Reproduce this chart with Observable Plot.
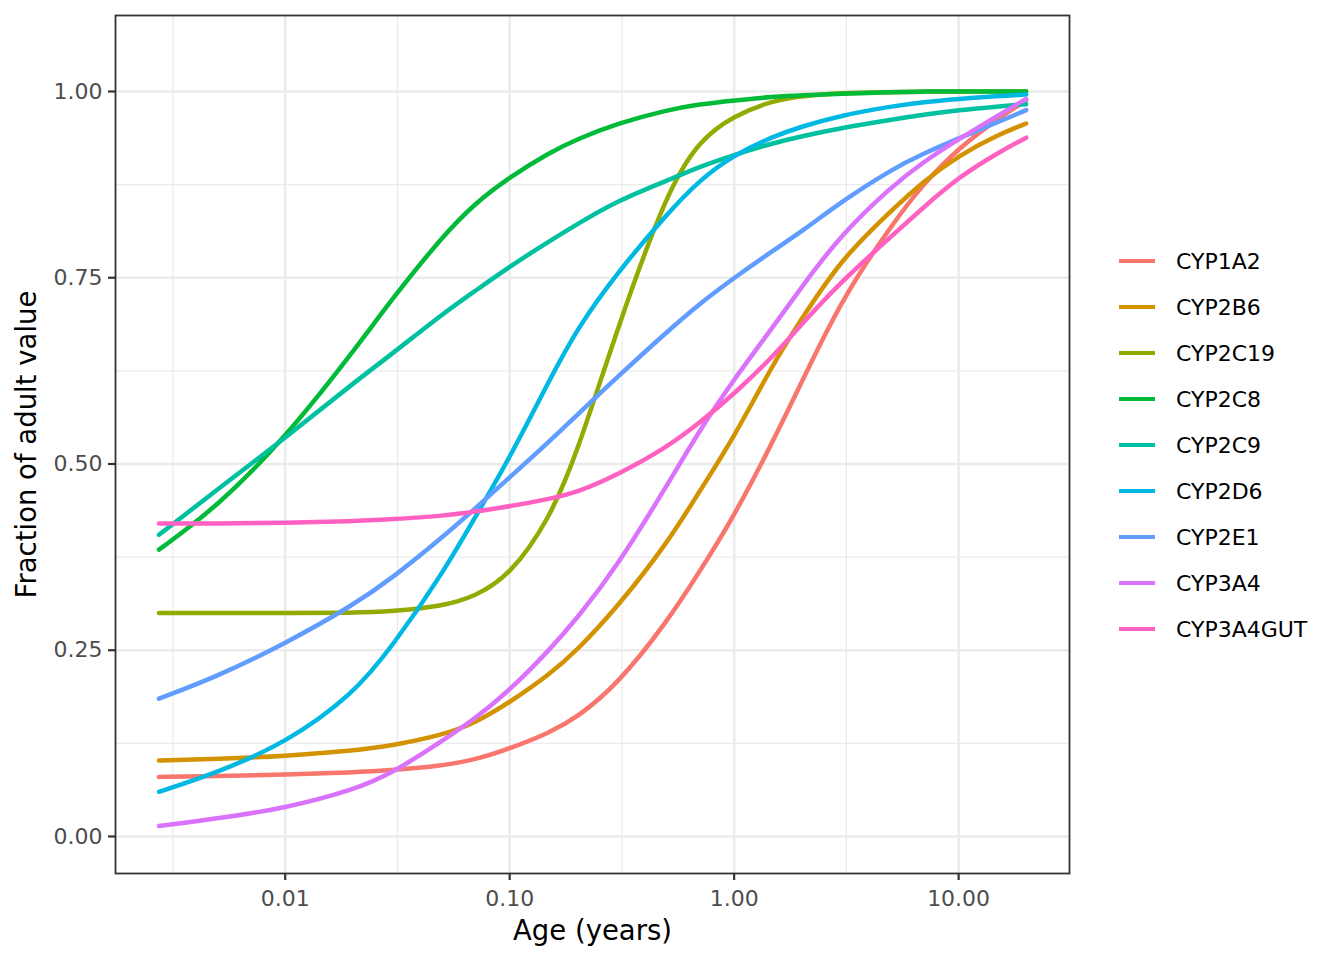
<!DOCTYPE html>
<html>
<head>
<meta charset="utf-8">
<script src="https://cdn.jsdelivr.net/npm/d3@7"></script>
<script src="https://cdn.jsdelivr.net/npm/@observablehq/plot@0.6"></script>
<style>
  html, body { margin: 0; padding: 0; background: #fff; }
  #wrap { position: relative; width: 1344px; height: 960px; font-family: "DejaVu Sans", sans-serif; }
  #chart { position: absolute; left: 0; top: 0; }
  #legend { position: absolute; left: 0; top: 0; }
  .item { position: absolute; left: 1119px; height: 46px; display: flex; align-items: center; }
  .sw { width: 36px; height: 4.5px; margin-right: 21px; }
  .lab { font-size: 22px; color: #000; }
</style>
</head>
<body>
<div id="wrap"><div id="chart"></div><div id="legend"></div></div>
<script>
const ages = [0.00274, 0.005, 0.01, 0.02, 0.03, 0.05, 0.07, 0.1, 0.15, 0.2, 0.3, 0.5, 0.7, 1, 1.5, 2, 3, 5, 7, 10, 15, 20];

const CYP1A2    = [0.080, 0.081, 0.083, 0.086, 0.089, 0.095, 0.103, 0.118, 0.139, 0.160, 0.203, 0.287, 0.355, 0.430, 0.532, 0.610, 0.720, 0.820, 0.877, 0.924, 0.964, 0.988];
const CYP2B6    = [0.102, 0.104, 0.108, 0.115, 0.122, 0.136, 0.152, 0.180, 0.217, 0.250, 0.307, 0.392, 0.463, 0.536, 0.636, 0.695, 0.775, 0.840, 0.880, 0.914, 0.942, 0.957];
const CYP2C19   = [0.300, 0.300, 0.300, 0.300, 0.302, 0.309, 0.322, 0.350, 0.425, 0.515, 0.680, 0.865, 0.935, 0.968, 0.988, 0.994, 0.998, 0.999, 1.000, 1.000, 1.000, 1.000];
const CYP2C8    = [0.385, 0.443, 0.535, 0.650, 0.722, 0.805, 0.850, 0.885, 0.918, 0.936, 0.957, 0.975, 0.983, 0.988, 0.993, 0.995, 0.997, 0.999, 1.000, 1.000, 1.000, 1.000];
const CYP2C9    = [0.405, 0.466, 0.535, 0.608, 0.648, 0.701, 0.732, 0.765, 0.799, 0.822, 0.853, 0.880, 0.899, 0.915, 0.931, 0.940, 0.951, 0.962, 0.969, 0.975, 0.980, 0.983];
const CYP2D6    = [0.060, 0.086, 0.125, 0.190, 0.255, 0.352, 0.428, 0.508, 0.612, 0.682, 0.756, 0.835, 0.881, 0.915, 0.940, 0.953, 0.968, 0.980, 0.986, 0.990, 0.994, 0.996];
const CYP2E1    = [0.185, 0.215, 0.259, 0.310, 0.347, 0.401, 0.440, 0.482, 0.530, 0.566, 0.616, 0.677, 0.715, 0.750, 0.787, 0.812, 0.852, 0.895, 0.917, 0.937, 0.959, 0.975];
const CYP3A4    = [0.014, 0.024, 0.038, 0.062, 0.085, 0.128, 0.158, 0.196, 0.250, 0.293, 0.362, 0.470, 0.545, 0.614, 0.685, 0.738, 0.808, 0.872, 0.906, 0.936, 0.968, 0.990];
const CYP3A4GUT = [0.420, 0.420, 0.421, 0.423, 0.426, 0.430, 0.436, 0.443, 0.453, 0.462, 0.485, 0.522, 0.555, 0.594, 0.645, 0.688, 0.745, 0.805, 0.845, 0.885, 0.918, 0.938];

const enzymes = ["CYP1A2", "CYP2B6", "CYP2C19", "CYP2C8", "CYP2C9", "CYP2D6", "CYP2E1", "CYP3A4", "CYP3A4GUT"];
const colors  = ["#F8766D", "#D39200", "#93AA00", "#00BA38", "#00C19F", "#00B9E3", "#619CFF", "#DB72FB", "#FF61C3"];
const series  = [CYP1A2, CYP2B6, CYP2C19, CYP2C8, CYP2C9, CYP2D6, CYP2E1, CYP3A4, CYP3A4GUT];

const xMajor = [0.01, 0.1, 1, 10];
const xMinor = [10 ** -2.5, 10 ** -1.5, 10 ** -0.5, 10 ** 0.5];
const yMajor = [0, 0.25, 0.5, 0.75, 1];
const yMinor = [0.125, 0.375, 0.625, 0.875];

const data = [];
enzymes.forEach((e, i) => ages.forEach((a, j) => data.push({enzyme: e, age: a, value: series[i][j]})));

const grid = "#EBEBEB";
const plot = Plot.plot({
  width: 1080,
  height: 960,
  marginLeft: 115,
  marginRight: 11,
  marginTop: 15,
  marginBottom: 87,
  style: {fontFamily: "DejaVu Sans", background: "#fff"},
  x: {type: "log", domain: [10 ** -2.756, 10 ** 1.494]},
  y: {domain: [-0.0497, 1.102]},
  color: {domain: enzymes, range: colors},
  marks: [
    Plot.ruleX(xMinor, {stroke: grid, strokeWidth: 1.3}),
    Plot.ruleY(yMinor, {stroke: grid, strokeWidth: 1.3}),
    Plot.ruleX(xMajor, {stroke: grid, strokeWidth: 2.6}),
    Plot.ruleY(yMajor, {stroke: grid, strokeWidth: 2.6}),
    Plot.line(data, {x: "age", y: "value", z: "enzyme", stroke: "enzyme", strokeWidth: 4.5, curve: "basis"}),
    Plot.frame({stroke: "#333333", strokeWidth: 1.8}),
    Plot.axisX({ticks: xMajor, tickFormat: d3.format(".2f"), tickSize: 7, tickPadding: 10, fontSize: 22, stroke: "#333333", strokeWidth: 2.2, fill: "#4D4D4D", label: null}),
    Plot.axisY({ticks: yMajor, tickFormat: d3.format(".2f"), tickSize: 7, tickPadding: 6, fontSize: 22, stroke: "#333333", strokeWidth: 2.2, fill: "#4D4D4D", label: null}),
    Plot.text(["Age (years)"], {frameAnchor: "bottom", dy: 66, fontSize: 27.5, fill: "#000"}),
    Plot.text(["Fraction of adult value"], {frameAnchor: "left", dx: -88, rotate: -90, textAnchor: "middle", fontSize: 27.5, fill: "#000"})
  ]
});
document.getElementById("chart").appendChild(plot);

const leg = document.getElementById("legend");
enzymes.forEach((e, i) => {
  const it = document.createElement("div");
  it.className = "item";
  it.style.top = (261 + 46 * i - 23) + "px";
  const sw = document.createElement("div");
  sw.className = "sw";
  sw.style.background = colors[i];
  const lb = document.createElement("span");
  lb.className = "lab";
  lb.textContent = e;
  it.appendChild(sw);
  it.appendChild(lb);
  leg.appendChild(it);
});
</script>
</body>
</html>
